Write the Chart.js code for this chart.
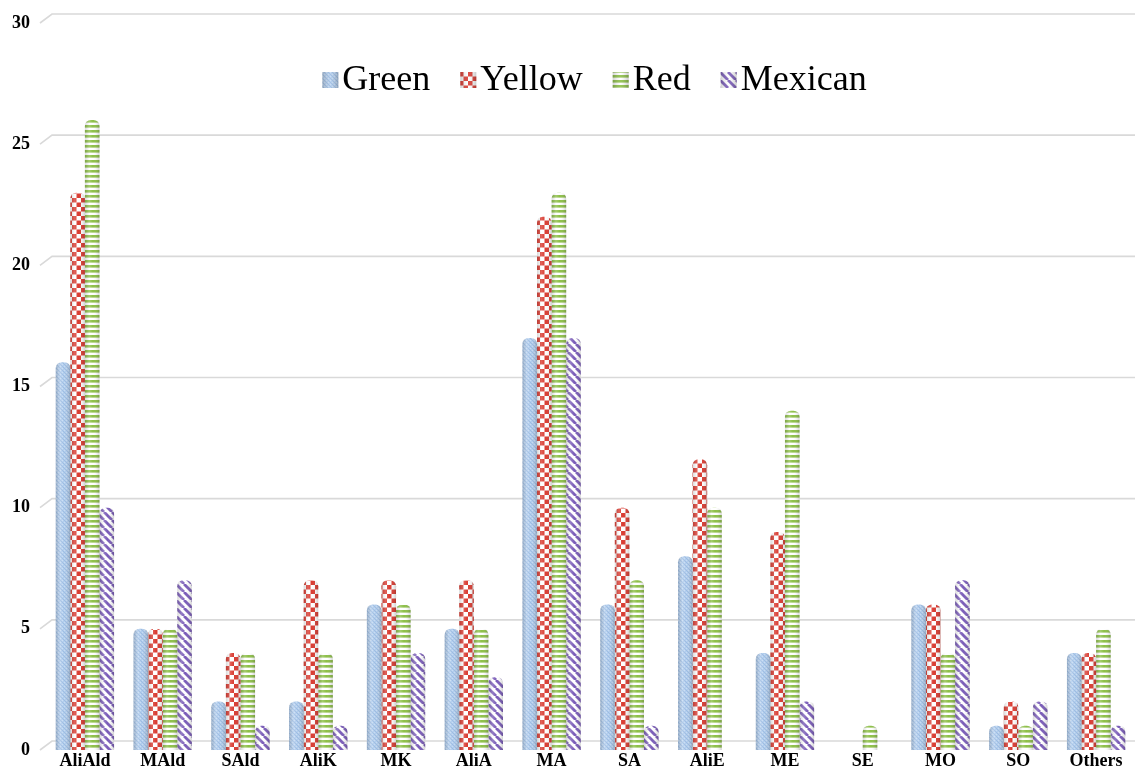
<!DOCTYPE html>
<html>
<head>
<meta charset="utf-8">
<script src="https://cdn.jsdelivr.net/npm/chart.js@4/dist/chart.umd.min.js"></script>
<style>
  html, body { margin: 0; padding: 0; background: #ffffff; }
  #wrap { position: relative; width: 1135px; height: 770px; }
</style>
</head>
<body>
<div id="wrap"><canvas id="chart"></canvas></div>
<script>
// Categories and counts per pepper type
const categories = ['AliAld', 'MAld', 'SAld', 'AliK', 'MK', 'AliA', 'MA', 'SA', 'AliE', 'ME', 'SE', 'MO', 'SO', 'Others'];
const seriesNames = ['Green', 'Yellow', 'Red', 'Mexican'];
const greenValues   = [16, 5, 2, 2, 6, 5, 17, 6, 8, 4, 0, 6, 1, 4];
const yellowValues  = [23, 5, 4, 7, 7, 7, 22, 10, 12, 9, 0, 6, 2, 4];
const redValues     = [26, 5, 4, 4, 6, 5, 23, 7, 10, 14, 1, 4, 1, 5];
const mexicanValues = [10, 7, 1, 1, 4, 3, 17, 1, 0, 2, 0, 7, 2, 1];
const yTicks = [0, 5, 10, 15, 20, 25, 30];

const SERIF = '"Liberation Serif", "Times New Roman", "DejaVu Serif", serif';

// ---- fill patterns ----
function makeTile(w, h, draw) {
  const c = document.createElement('canvas');
  c.width = w; c.height = h;
  const g = c.getContext('2d');
  draw(g, w, h);
  return c;
}
const ctxMain = document.getElementById('chart').getContext('2d');

const blueTile = makeTile(4, 4, (g) => {
  g.fillStyle = '#b0cced'; g.fillRect(0, 0, 4, 4);
  g.fillStyle = '#9dbce1';
  g.fillRect(0, 0, 1, 1); g.fillRect(1, 1, 1, 1); g.fillRect(2, 2, 1, 1); g.fillRect(3, 3, 1, 1);
  g.fillStyle = '#c8dcf2';
  g.fillRect(2, 0, 1, 1); g.fillRect(0, 2, 1, 1);
});
const checkTile = makeTile(9, 9, (g) => {
  g.fillStyle = '#ffffff'; g.fillRect(0, 0, 9, 9);
  g.fillStyle = '#d93a30';
  g.fillRect(0, 0, 4.5, 4.5); g.fillRect(4.5, 4.5, 4.5, 4.5);
});
const stripeTile = makeTile(5, 5, (g) => {
  g.fillStyle = '#ffffff'; g.fillRect(0, 0, 5, 5);
  g.fillStyle = '#8dbf48'; g.fillRect(0, 0, 5, 2.6);
});
const diagTile = makeTile(8, 8, (g) => {
  g.fillStyle = '#ffffff'; g.fillRect(0, 0, 8, 8);
  g.strokeStyle = '#7a5cb8'; g.lineWidth = 2.8;
  for (let k = -16; k <= 16; k += 8) {
    g.beginPath(); g.moveTo(k, 0); g.lineTo(k + 8, 8); g.stroke();
  }
});
const fills = [
  ctxMain.createPattern(blueTile, 'repeat'),
  ctxMain.createPattern(checkTile, 'repeat'),
  ctxMain.createPattern(stripeTile, 'repeat'),
  ctxMain.createPattern(diagTile, 'repeat')
];
const seriesValues = [greenValues, yellowValues, redValues, mexicanValues];

// ---- back-wall grid lines with a short slanted floor edge ----
const gridPlugin = {
  id: 'slantGrid',
  beforeDatasetsDraw(chart) {
    const { ctx, chartArea } = chart;
    const y = chart.scales.y;
    ctx.save();
    ctx.strokeStyle = '#d9d9d9';
    ctx.lineWidth = 1.6;
    yTicks.forEach(v => {
      const py = y.getPixelForValue(v);
      ctx.beginPath();
      ctx.moveTo(chartArea.left - 6, py);
      ctx.lineTo(chartArea.left + 6, py - 9);
      ctx.lineTo(chartArea.right, py - 9);
      ctx.stroke();
    });
    ctx.restore();
  }
};

// ---- cylinder shading over each bar ----
function roundTopPath(ctx, x0, x1, top, base, r) {
  ctx.beginPath();
  ctx.moveTo(x0, base);
  ctx.lineTo(x0, top + r);
  ctx.quadraticCurveTo(x0, top, x0 + r, top);
  ctx.lineTo(x1 - r, top);
  ctx.quadraticCurveTo(x1, top, x1, top + r);
  ctx.lineTo(x1, base);
  ctx.closePath();
}
const shadePlugin = {
  id: 'cylinderShade',
  afterDatasetsDraw(chart) {
    const { ctx } = chart;
    ctx.save();
    chart.data.datasets.forEach((ds, di) => {
      const meta = chart.getDatasetMeta(di);
      meta.data.forEach(bar => {
        const h = bar.base - bar.y;
        if (h <= 0.5) return;
        const x0 = bar.x - bar.width / 2, x1 = bar.x + bar.width / 2;
        const r = Math.min(bar.width / 2, h / 2, 6);
        const grad = ctx.createLinearGradient(x0, 0, x1, 0);
        grad.addColorStop(0, 'rgba(60,60,60,0.2)');
        grad.addColorStop(0.3, 'rgba(255,255,255,0.2)');
        grad.addColorStop(0.55, 'rgba(255,255,255,0.0)');
        grad.addColorStop(1, 'rgba(40,40,40,0.22)');
        roundTopPath(ctx, x0, x1, bar.y, bar.base, r);
        ctx.fillStyle = grad;
        ctx.fill();
      });
    });
    ctx.restore();
  }
};

// ---- legend drawn over the top of the plot ----
const legendPlugin = {
  id: 'topLegend',
  afterDraw(chart) {
    const { ctx, chartArea } = chart;
    ctx.save();
    ctx.font = '36px ' + SERIF;
    ctx.textBaseline = 'middle';
    const box = 16, gapText = 4, gapItem = 30;
    const widths = seriesNames.map(n => ctx.measureText(n).width);
    let total = 0;
    widths.forEach((w, i) => { total += box + gapText + w + (i < widths.length - 1 ? gapItem : 0); });
    let x = (chartArea.left + chartArea.right) / 2 - total / 2 + 4;
    const cy = 80;
    seriesNames.forEach((n, i) => {
      ctx.fillStyle = fills[i];
      ctx.fillRect(x, cy - box / 2, box, box);
      const g = ctx.createLinearGradient(x, 0, x + box, 0);
      g.addColorStop(0, 'rgba(60,60,60,0.25)');
      g.addColorStop(0.5, 'rgba(255,255,255,0.1)');
      g.addColorStop(1, 'rgba(40,40,40,0.25)');
      ctx.fillStyle = g;
      ctx.fillRect(x, cy - box / 2, box, box);
      ctx.fillStyle = '#000000';
      ctx.fillText(n, x + box + gapText, cy + 1);
      x += box + gapText + widths[i] + gapItem;
    });
    ctx.restore();
  }
};

const datasets = seriesNames.map((name, i) => ({
  label: name,
  data: seriesValues[i],
  backgroundColor: fills[i],
  borderWidth: 0,
  borderRadius: { topLeft: 6, topRight: 6, bottomLeft: 0, bottomRight: 0 },
  borderSkipped: 'bottom',
  categoryPercentage: 0.75,
  barPercentage: 1.0
}));

new Chart(ctxMain, {
  type: 'bar',
  data: { labels: categories, datasets },
  options: {
    responsive: true,
    maintainAspectRatio: false,
    animation: false,
    layout: { padding: { top: 23, right: 0, bottom: 0, left: 0 } },
    plugins: {
      legend: { display: false },
      tooltip: { enabled: false }
    },
    scales: {
      x: {
        afterFit(scale) { scale.height = 20; },
        grid: { display: false, drawTicks: false, tickLength: 0 },
        border: { display: false },
        ticks: {
          color: '#000000',
          font: { family: SERIF, size: 18, weight: 'bold' },
          padding: 1,
          maxRotation: 0,
          autoSkip: false
        }
      },
      y: {
        min: 0,
        max: 30,
        afterFit(scale) { scale.width = 46; },
        grid: { display: false },
        border: { display: false },
        ticks: {
          stepSize: 5,
          color: '#000000',
          padding: 8,
          font: { family: SERIF, size: 18, weight: 'bold' }
        }
      }
    }
  },
  plugins: [gridPlugin, shadePlugin, legendPlugin]
});
</script>
</body>
</html>
